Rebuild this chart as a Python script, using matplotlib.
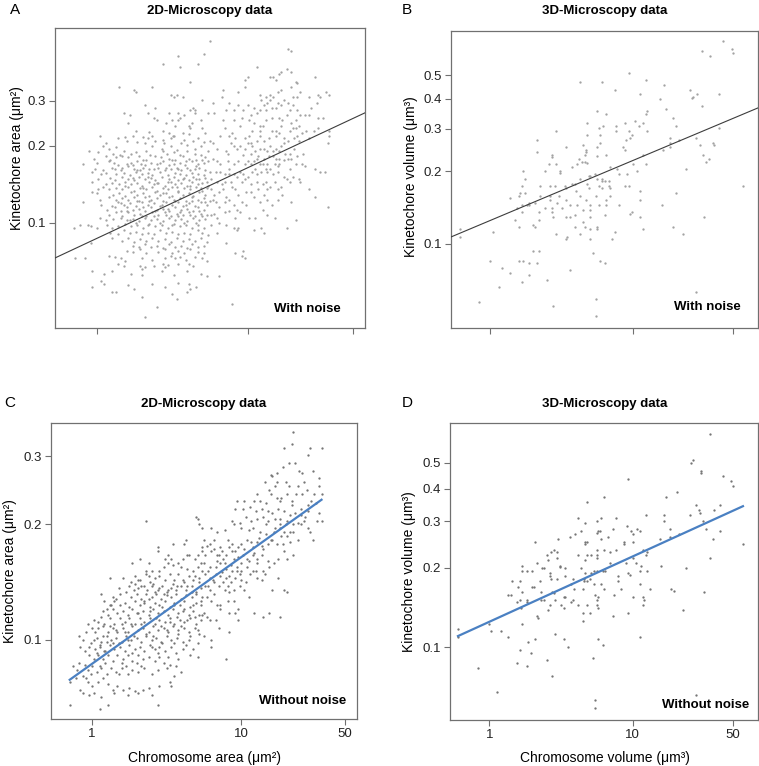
import numpy as np
import matplotlib.pyplot as plt
from matplotlib.ticker import NullLocator

plt.rcParams['font.family'] = ['Liberation Sans', 'DejaVu Sans']

# values, stored as log10: (chromosome size, kinetochore size)
log_pts_a = [
 (.75,-.29),(.71,-.34),(.54,-.35),(.44,-.38),(.67,-.38),(.55,-.39),(.62,-.45),(.15,-.47),(.37,-.47),(.25,-.48),(.26,-.49),(.49,-.50),(.53,-.50),(.51,-.51),(.57,-.51),(.70,-.52),(.32,-.54),(.39,-.55),(.64,-.55),(.65,-.56),(.62,-.56),(.18,-.57),(.48,-.57),(.54,-.57),(.58,-.58),(.55,-.59),(.65,-.57),(.74,-.57),(.22,-.58),(.34,-.57),(.38,-.59),(.40,-.60),(.46,-.61),(.50,-.60),(.54,-.60),(.63,-.61),(.69,-.60),(.21,-.61),(.52,-.62),(.62,-.63),(.61,-.62),(.70,-.63),
 (.26,-.64),(.35,-.645),(.44,-.64),(.48,-.65),(.505,-.66),(.57,-.65),(.61,-.655),(.72,-.65),
 (.02,-.66),(.14,-.67),(.19,-.665),(.24,-.66),(.31,-.665),(.34,-.67),(.37,-.66),(.44,-.675),(.49,-.67),(.51,-.66),(.58,-.675),(.67,-.67),
 (.06,-.69),(.20,-.68),(.27,-.685),(.32,-.69),(.39,-.68),(.445,-.69),(.56,-.69),(.60,-.695),(.64,-.68),(.71,-.685),(.75,-.68),
 (.04,-.70),(.08,-.71),(.13,-.705),(.37,-.70),(.43,-.71),(.49,-.70),(.53,-.715),(.65,-.71),(.69,-.70),
 (-.05,-.72),(.01,-.725),(.11,-.73),(.155,-.735),(.18,-.72),(.23,-.73),(.26,-.725),(.33,-.72),(.355,-.735),(.44,-.72),(.465,-.73),(.51,-.725),(.55,-.735),(.60,-.72),(.65,-.73),(.69,-.735),(.74,-.72),
 (-.02,-.75),(.06,-.74),(.09,-.755),(.13,-.745),(.165,-.74),(.21,-.745),(.28,-.74),(.31,-.755),(.39,-.74),(.425,-.745),(.48,-.75),(.52,-.755),(.57,-.74),(.61,-.75),(.66,-.755),(.72,-.745),
 (-.09,-.77),(.00,-.765),(.08,-.76),(.115,-.765),(.14,-.775),(.20,-.77),(.24,-.775),(.27,-.76),(.295,-.77),(.32,-.775),(.36,-.765),(.40,-.77),(.44,-.76),(.48,-.775),(.51,-.77),(.55,-.765),(.585,-.775),(.63,-.76),(.67,-.77),(.71,-.765),(.74,-.76),
 (-.01,-.79),(.04,-.795),(.10,-.785),(.12,-.79),(.16,-.795),(.21,-.78),(.25,-.79),(.29,-.795),(.31,-.785),(.35,-.79),(.41,-.785),(.45,-.795),(.49,-.79),(.53,-.785),(.56,-.795),(.60,-.785),(.65,-.79),(.68,-.785),(.72,-.795),
 (-.03,-.80),(.03,-.81),(.06,-.805),(.13,-.81),(.18,-.805),(.22,-.815),(.26,-.80),(.30,-.81),(.34,-.805),(.37,-.815),(.42,-.80),(.47,-.815),(.52,-.805),(.55,-.81),(.59,-.815),(.63,-.805),(.67,-.81),(.71,-.815),(.75,-.80),
 (.01,-.83),(.09,-.825),(.12,-.835),(.17,-.82),(.21,-.83),(.25,-.835),(.28,-.82),(.32,-.83),(.36,-.825),(.39,-.835),(.43,-.82),(.48,-.83),(.51,-.82),(.54,-.835),(.58,-.825),(.61,-.835),(.64,-.82),(.68,-.83),(.72,-.825),
 (-.03,-.84),(.06,-.85),(.10,-.845),(.15,-.85),(.19,-.84),(.23,-.85),(.27,-.845),(.30,-.855),(.35,-.84),(.38,-.85),(.41,-.845),(.45,-.855),(.49,-.84),(.52,-.85),(.56,-.845),(.60,-.855),(.63,-.84),(.67,-.85),(.70,-.845),(.74,-.855),
 (-.03,-.88),(.01,-.87),(.04,-.86),(.08,-.87),(.13,-.865),(.17,-.87),(.21,-.86),(.25,-.875),(.29,-.865),(.33,-.87),(.37,-.86),(.40,-.875),(.44,-.865),(.47,-.87),(.50,-.86),(.54,-.875),(.58,-.865),(.62,-.87),(.66,-.86),(.70,-.875),(.73,-.865),
 (.00,-.885),(.11,-.89),(.15,-.885),(.19,-.895),(.23,-.88),(.27,-.89),(.31,-.885),(.35,-.895),(.39,-.88),(.42,-.89),(.46,-.885),(.50,-.895),(.54,-.88),(.57,-.89),(.61,-.885),(.64,-.895),(.68,-.88),(.72,-.89),
 (-.09,-.92),(.02,-.91),(.08,-.90),(.13,-.91),(.17,-.905),(.21,-.91),(.25,-.90),(.28,-.915),(.32,-.90),(.36,-.91),(.40,-.905),(.44,-.915),(.48,-.90),(.51,-.91),(.55,-.905),(.59,-.915),(.63,-.90),(.67,-.91),(.71,-.905),(.75,-.915),
 (.03,-.93),(.10,-.935),(.14,-.92),(.18,-.93),(.22,-.925),(.26,-.935),(.30,-.92),(.34,-.93),(.38,-.925),(.42,-.935),(.46,-.92),(.50,-.93),(.54,-.92),(.57,-.935),(.61,-.925),(.65,-.935),(.69,-.92),(.73,-.93),
 (.07,-.95),(.12,-.94),(.16,-.955),(.20,-.94),(.24,-.95),(.28,-.945),(.32,-.955),(.36,-.94),(.40,-.95),(.44,-.945),(.48,-.955),(.52,-.94),(.56,-.95),(.60,-.945),(.64,-.955),(.67,-.94),(.71,-.95),
 (.08,-.97),(.13,-.96),(.17,-.975),(.21,-.96),(.25,-.97),(.29,-.965),(.33,-.975),(.37,-.96),(.41,-.97),(.45,-.96),(.49,-.975),(.53,-.965),(.57,-.97),(.61,-.96),(.65,-.975),(.69,-.965),(.73,-.97),
 (.02,-.98),(.06,-.99),(.11,-.985),(.16,-.98),(.20,-.99),(.24,-.985),(.28,-.995),(.32,-.98),(.36,-.99),(.40,-.985),(.44,-.995),(.48,-.98),(.52,-.99),(.56,-.985),(.60,-.995),(.64,-.98),(.68,-.99),(.72,-.985),
 (-.15,-1.02),(-.11,-1.01),(-.06,-1.01),(-.04,-1.015),(.00,-1.02),(.07,-1.01),(.10,-1.02),(.14,-1.015),(.19,-1.005),(.23,-1.015),(.27,-1.01),(.31,-1.02),(.35,-1.005),(.39,-1.015),(.43,-1.01),(.47,-1.02),(.51,-1.005),(.55,-1.015),(.59,-1.01),(.63,-1.02),(.67,-1.01),(.71,-1.02),
 (.09,-1.04),(.14,-1.045),(.18,-1.03),(.22,-1.04),(.26,-1.035),(.30,-1.045),(.34,-1.04),(.38,-1.045),(.42,-1.03),(.46,-1.04),(.50,-1.035),(.54,-1.045),(.58,-1.04),(.62,-1.045),(.67,-1.03),(.70,-1.04),(.74,-1.05),
 (.10,-1.06),(.17,-1.07),(.21,-1.06),(.25,-1.075),(.29,-1.065),(.33,-1.07),(.37,-1.06),(.41,-1.07),(.45,-1.065),(.49,-1.075),(.53,-1.06),(.57,-1.07),(.61,-1.065),(.65,-1.07),(.69,-1.06),(.73,-1.075),
 (-.04,-1.08),(.24,-1.09),(.28,-1.095),(.32,-1.085),(.36,-1.095),(.40,-1.09),(.44,-1.10),(.48,-1.085),(.52,-1.095),(.56,-1.09),(.60,-1.10),(.63,-1.085),(.67,-1.095),(.71,-1.09),
 (.20,-1.11),(.24,-1.115),(.29,-1.105),(.33,-1.12),(.41,-1.115),(.45,-1.105),(.50,-1.12),(.54,-1.11),(.58,-1.12),(.62,-1.105),(.67,-1.115),(.71,-1.12),
 (-.14,-1.14),(-.08,-1.14),(.08,-1.13),(.12,-1.135),(.16,-1.14),(.19,-1.15),(.30,-1.14),(.37,-1.145),(.45,-1.14),(.49,-1.13),(.52,-1.14),(.55,-1.135),(.59,-1.145),(.65,-1.135),(.70,-1.14),(.73,-1.15),
 (.14,-1.16),(.18,-1.17),(.29,-1.17),(.30,-1.18),(.32,-1.175),(.38,-1.17),(.44,-1.16),(.45,-1.175),(.47,-1.165),(.54,-1.16),(.61,-1.16),(.64,-1.17),
 (-.03,-1.19),(.05,-1.20),(.10,-1.19),(.23,-1.20),(.30,-1.205),(.43,-1.19),(.51,-1.205),(.60,-1.19),(.69,-1.20),(.73,-1.21),
 (.03,-1.23),(-.03,-1.25),(.05,-1.24),(.21,-1.245),(.25,-1.26),(.37,-1.24),(.45,-1.25),(.54,-1.235),(.61,-1.24),(.66,-1.25),
 (.10,-1.27),(.13,-1.27),(.30,-1.29),(.50,-1.28),(.60,-1.27),(.62,-1.26),(.53,-1.30),(.40,-1.33),(.32,-1.37),
 (.17,-.785),(.23,-.765),(.27,-.795),(.33,-.755),(.38,-.79),(.42,-.765),(.46,-.785),(.50,-.755),(.54,-.79),(.59,-.76),(.62,-.795),(.66,-.78),(.70,-.755),
 (.19,-.855),(.24,-.825),(.31,-.865),(.34,-.82),(.40,-.845),(.44,-.885),(.47,-.84),(.53,-.86),(.57,-.83),(.62,-.855),(.66,-.83),(.69,-.865),(.73,-.84),
 (.16,-.925),(.20,-.955),(.27,-.915),(.31,-.94),(.35,-.915),(.39,-.955),(.43,-.93),(.47,-.945),(.52,-.915),(.55,-.96),(.59,-.93),(.63,-.915),(.68,-.955),(.72,-.92),
 (.22,-.99),(.26,-1.00),(.30,-.975),(.34,-1.01),(.38,-.975),(.42,-1.00),(.46,-.97),(.50,-1.01),(.54,-.975),(.58,-1.00),(.62,-.97),(.66,-1.00),(.70,-.975),
 (1.27,-.32),(1.29,-.33),(1.06,-.39),(1.00,-.43),(.98,-.44),(1.17,-.43),(1.19,-.44),(1.21,-.42),(1.22,-.41),(1.15,-.43),(1.26,-.40),(1.29,-.41),(1.32,-.45),(1.33,-.455),(1.29,-.47),(1.22,-.48),(1.45,-.43),
 (.84,-.48),(.94,-.49),(.98,-.47),(1.20,-.49),(1.15,-.50),(1.08,-.50),(1.12,-.51),(1.15,-.52),(1.17,-.51),(1.09,-.52),(1.13,-.53),(1.20,-.53),(1.24,-.52),(1.27,-.53),(1.30,-.51),(1.33,-.51),(1.35,-.49),(1.41,-.51),(1.47,-.50),(1.52,-.49),(1.54,-.50),(1.48,-.51),
 (.77,-.53),(.83,-.51),(.88,-.53),(.94,-.54),(1.00,-.54),(1.04,-.55),(1.06,-.57),(1.02,-.58),(.97,-.56),(.91,-.56),(.86,-.56),(.78,-.57),(1.08,-.56),(1.11,-.54),(1.12,-.56),(1.16,-.55),(1.19,-.55),(1.22,-.54),(1.28,-.56),(1.30,-.54),(1.33,-.56),(1.35,-.58),(1.38,-.58),(1.42,-.55),(1.46,-.53),(1.47,-.59),(1.50,-.59),(1.41,-.58),(1.32,-.60),
 (.84,-.60),(.91,-.60),(.96,-.59),(1.01,-.60),(1.04,-.61),(1.08,-.62),(1.12,-.60),(1.16,-.59),(1.21,-.59),(1.26,-.58),(1.22,-.62),(1.29,-.61),(1.34,-.62),(1.39,-.64),(1.44,-.64),(1.47,-.63),(1.54,-.64),(1.08,-.64),(1.19,-.64),(1.28,-.64),(1.32,-.63),
 (.82,-.66),(.88,-.66),(.92,-.67),(.98,-.67),(1.01,-.66),(1.00,-.69),(1.02,-.69),(1.06,-.68),(1.08,-.66),(1.11,-.68),(1.14,-.67),(1.19,-.66),(1.21,-.65),(1.24,-.67),(1.24,-.69),(1.27,-.68),(1.31,-.67),(1.33,-.66),(1.36,-.65),(1.34,-.68),(1.41,-.67),(1.53,-.69),(1.54,-.66),
 (.77,-.69),(.80,-.71),(.86,-.72),(.89,-.69),(.91,-.70),(.95,-.70),(.98,-.71),(1.02,-.73),(1.05,-.72),(1.08,-.71),(1.11,-.71),(1.13,-.72),(1.14,-.74),(1.17,-.72),(1.19,-.71),(1.22,-.70),(1.25,-.73),(1.28,-.73),(1.29,-.75),(1.31,-.71),(1.37,-.73),(1.17,-.74),(1.19,-.75),(1.21,-.75),(1.24,-.755),(1.27,-.75),(1.11,-.75),(1.07,-.74),
 (.77,-.75),(.82,-.77),(.87,-.76),(.91,-.77),(.94,-.76),(.98,-.77),(1.00,-.76),(1.02,-.77),(1.04,-.76),(1.08,-.77),(1.10,-.77),(1.13,-.77),(1.18,-.77),(1.21,-.77),(1.28,-.79),(1.32,-.77),(1.36,-.77),(1.38,-.78),(1.45,-.79),(1.48,-.80),(1.51,-.80),
 (.79,-.80),(.82,-.80),(.85,-.81),(.88,-.81),(.91,-.81),(.93,-.82),(.97,-.81),(1.00,-.82),(1.03,-.80),(1.06,-.81),(1.09,-.80),(1.12,-.79),(1.15,-.79),(1.17,-.81),(1.20,-.80),(1.24,-.82),(1.26,-.83),(1.30,-.82),(1.34,-.83),
 (.76,-.83),(.80,-.84),(.83,-.85),(.85,-.84),(.89,-.84),(.90,-.86),(.96,-.84),(.98,-.83),(1.02,-.85),(1.06,-.84),(1.10,-.85),(1.12,-.84),(1.15,-.86),(1.18,-.84),(1.22,-.86),(1.28,-.84),(1.35,-.84),
 (.76,-.87),(.78,-.89),(.81,-.88),(.84,-.87),(.86,-.90),(.92,-.87),(.94,-.89),(.99,-.88),(1.02,-.88),(1.07,-.87),(1.11,-.89),(1.13,-.87),(1.20,-.87),(1.23,-.89),(1.41,-.87),
 (.77,-.91),(.79,-.92),(.81,-.94),(.85,-.92),(.88,-.91),(.91,-.93),(.93,-.95),(.96,-.92),(.99,-.93),(1.04,-.90),(1.08,-.92),(1.13,-.91),(1.16,-.93),(1.20,-.91),(1.29,-.92),(1.45,-.90),(1.53,-.94),
 (.76,-.97),(.78,-.965),(.80,-.98),(.85,-.96),(.88,-.955),(.92,-.98),(.95,-.96),(1.01,-.98),(1.05,-.98),(1.10,-.95),(1.13,-.97),(1.18,-.98),(1.32,-.99),
 (.76,-1.01),(.81,-1.00),(.86,-1.01),(.91,-1.02),(.93,-1.03),(.94,-1.02),(1.04,-1.03),(1.09,-1.02),(1.11,-1.04),(1.26,-1.02),
 (.80,-1.04),(.86,-1.08),(.92,-1.12),(.96,-1.13),(.97,-1.11),(.98,-1.14),(.81,-1.21),(.90,-1.32),
 (.85,-.63),(.90,-.65),(.95,-.62),(1.03,-.64),(1.10,-.62),(1.16,-.64),(1.23,-.60),(1.30,-.63),(.87,-.73),(.93,-.71),(.97,-.735),(1.03,-.70),(1.06,-.75),(1.15,-.70),(1.21,-.72),(1.33,-.74),
 (.80,-.76),(.88,-.79),(.95,-.80),(1.05,-.79),(1.13,-.80),(1.20,-.78),
]

log_pts_b = [
 (1.63,-.16),(1.69,-.19),(1.70,-.21),(1.48,-.20),(1.54,-.22),(.97,-.29),(1.09,-.32),(.63,-.33),(.78,-.33),(1.22,-.34),(.87,-.36),(1.40,-.36),(1.60,-.38),(1.05,-.38),(1.45,-.38),(1.42,-.39),(1.41,-.395),(1.19,-.40),(1.48,-.43),(1.23,-.44),
 (.75,-.45),(.81,-.46),(1.10,-.45),(1.09,-.46),(1.28,-.48),(.68,-.50),(.94,-.50),(1.01,-.49),(1.04,-.51),(1.07,-.50),(.88,-.51),(.79,-.51),(.76,-.52),(1.30,-.51),(1.60,-.52),(1.10,-.53),(.46,-.53),(.88,-.53),(.97,-.53),
 (.68,-.55),(.77,-.55),(.99,-.55),(.98,-.56),(1.26,-.56),(1.26,-.58),(.95,-.57),(.33,-.57),(1.32,-.57),(1.44,-.56),(1.56,-.58),(1.57,-.59),(1.47,-.59),(.77,-.58),(.65,-.59),(.53,-.60),(.93,-.60),(.94,-.61),(.75,-.60),(.67,-.61),(.67,-.62),(.33,-.62),
 (.66,-.63),(.81,-.63),(.75,-.635),(.43,-.63),(.43,-.64),(.62,-.65),(.66,-.66),(.61,-.67),(.64,-.66),(.68,-.665),(.46,-.67),(.41,-.67),(1.07,-.63),(1.21,-.61),(1.26,-.60),(1.49,-.63),(1.51,-.66),(1.53,-.65),
 (.57,-.68),(.84,-.68),(.89,-.69),(.38,-.70),(.49,-.70),(.49,-.705),(1.09,-.67),(1.00,-.67),(1.37,-.69),(.23,-.70),(.73,-.71),(.70,-.72),(.90,-.71),(.96,-.71),(1.03,-.70),
 (.24,-.73),(.75,-.73),(.78,-.73),(.69,-.72),(.63,-.73),(.57,-.75),(.59,-.75),(.52,-.76),(.45,-.76),(.42,-.76),(.35,-.76),(.68,-.75),(.78,-.74),(.80,-.74),(.83,-.74),(.76,-.76),(.78,-.77),(.83,-.76),(.69,-.77),(.94,-.76),(.97,-.76),(1.05,-.78),
 (.22,-.76),(.21,-.79),(.24,-.79),(.20,-.80),(.14,-.81),(.27,-.83),(.27,-.84),(.22,-.84),(.22,-.87),(.19,-.85),(.31,-.83),(.35,-.80),(.42,-.80),(.48,-.80),(.53,-.77),(.60,-.78),(.63,-.80),(.67,-.82),(.74,-.80),(.81,-.82),(.84,-.80),(.84,-.77),
 (.26,-.84),(.38,-.85),(.34,-.87),(.42,-.82),(.43,-.85),(.43,-.87),(.47,-.83),(.50,-.85),(.53,-.82),(.56,-.84),(.61,-.84),(.65,-.86),(.70,-.84),(.76,-.84),(.81,-.84),(.90,-.84),(.99,-.87),(.98,-.875),(1.05,-.82),(1.20,-.84),(1.30,-.79),(1.50,-.89),(1.77,-.76),
 (.17,-.90),(.20,-.93),(.30,-.92),(.31,-.93),(.34,-.90),(.44,-.89),(.53,-.89),(.56,-.89),(.59,-.88),(.65,-.91),(.66,-.93),(.59,-.93),(.70,-.89),(.70,-.86),(.80,-.88),(.75,-.93),(.75,-.94),(.70,-.94),
 (.46,-.96),(.54,-.97),(.53,-.98),(.63,-.96),(.70,-.98),(.87,-.95),(.85,-.98),(1.05,-.89),(1.07,-.94),(1.28,-.93),(1.35,-.96),(.02,-.95),(-.21,-.94),(-.21,-.97),
 (.30,-1.03),(.34,-1.03),(.00,-1.07),(.20,-1.07),(.23,-1.07),(.27,-1.08),(.33,-1.08),(.08,-1.10),(.14,-1.12),(.27,-1.13),(.22,-1.16),(.40,-1.15),(.56,-1.11),(.72,-1.04),(.77,-1.07),(.80,-1.08),
 (.06,-1.18),(-.08,-1.24),(.44,-1.26),(.74,-1.23),(.74,-1.30),(1.44,-1.20),
]

log_pts_c = [
 (.36,-.69),(.70,-.68),(.71,-.685),(.72,-.70),(.74,-.71),(.63,-.74),(.62,-.75),(.54,-.75),(.74,-.76),(.74,-.77),(.44,-.76),(.44,-.77),(.51,-.78),(.53,-.79),(.49,-.79),(.61,-.79),(.64,-.78),(.65,-.78),(.71,-.78),(.69,-.79),(.73,-.80),
 (.27,-.80),(.32,-.79),(.38,-.80),(.36,-.82),(.40,-.82),(.45,-.82),(.48,-.81),(.51,-.80),(.54,-.805),(.58,-.80),(.60,-.81),(.64,-.815),(.68,-.82),(.71,-.81),(.74,-.82),
 (.21,-.84),(.12,-.84),(.29,-.835),(.31,-.845),(.36,-.83),(.39,-.85),(.42,-.84),(.45,-.835),(.49,-.845),(.52,-.83),(.55,-.845),(.58,-.83),(.62,-.85),(.65,-.835),(.68,-.845),(.72,-.84),
 (.25,-.86),(.28,-.87),(.31,-.865),(.33,-.86),(.37,-.87),(.40,-.86),(.44,-.87),(.47,-.86),(.50,-.875),(.53,-.865),(.56,-.87),(.60,-.86),(.63,-.87),(.67,-.86),(.70,-.875),(.73,-.865),
 (.06,-.88),(.14,-.89),(.19,-.88),(.23,-.875),(.26,-.89),(.30,-.88),(.33,-.895),(.36,-.88),(.40,-.89),(.43,-.88),(.46,-.895),(.50,-.885),(.53,-.89),(.56,-.88),(.60,-.895),(.63,-.885),(.67,-.89),(.70,-.88),(.74,-.89),
 (.08,-.90),(.12,-.91),(.15,-.90),(.19,-.91),(.22,-.905),(.25,-.915),(.29,-.90),(.32,-.91),(.35,-.90),(.39,-.915),(.42,-.905),(.45,-.91),(.49,-.90),(.52,-.915),(.55,-.905),(.59,-.91),(.62,-.90),(.66,-.915),(.70,-.905),(.73,-.91),
 (.07,-.925),(.11,-.935),(.14,-.92),(.17,-.93),(.21,-.925),(.24,-.935),(.27,-.92),(.31,-.93),(.34,-.925),(.38,-.935),(.41,-.92),(.44,-.93),(.48,-.925),(.51,-.935),(.54,-.92),(.58,-.93),(.61,-.925),(.65,-.935),(.68,-.925),(.72,-.935),
 (-.09,-.99),(-.04,-.98),(.00,-.97),(.02,-.98),(-.03,-.96),(.01,-.95),(.04,-.955),(.06,-.94),(.08,-.96),(.12,-.945),(.15,-.96),(.19,-.945),(.22,-.955),(.25,-.945),(.29,-.96),(.32,-.945),(.35,-.955),(.39,-.945),(.42,-.96),(.45,-.95),(.49,-.955),(.52,-.945),(.55,-.96),(.59,-.95),(.62,-.955),(.66,-.945),(.70,-.96),(.73,-.95),
 (.04,-.97),(.07,-.965),(.11,-.98),(.14,-.97),(.17,-.98),(.21,-.97),(.24,-.98),(.27,-.965),(.31,-.975),(.34,-.97),(.38,-.98),(.41,-.965),(.44,-.975),(.48,-.97),(.51,-.98),(.54,-.965),(.58,-.975),(.62,-.97),(.65,-.98),(.69,-.97),(.72,-.985),
 (-.06,-1.00),(-.01,-1.01),(.03,-.995),(.06,-1.005),(.10,-.99),(.13,-1.00),(.16,-.995),(.20,-1.005),(.23,-.99),(.26,-1.00),(.30,-.995),(.33,-1.005),(.36,-.99),(.40,-1.00),(.43,-.995),(.46,-1.005),(.50,-.99),(.53,-1.00),(.57,-.995),(.61,-1.005),(.65,-1.00),(.71,-1.01),
 (-.08,-1.02),(-.05,-1.03),(-.02,-1.02),(.02,-1.025),(.05,-1.02),(.08,-1.03),(.12,-1.015),(.15,-1.025),(.19,-1.02),(.22,-1.03),(.25,-1.015),(.29,-1.025),(.32,-1.02),(.35,-1.03),(.39,-1.015),(.42,-1.025),(.45,-1.02),(.49,-1.03),(.53,-1.02),(.56,-1.035),(.61,-1.025),(.66,-1.04),(.71,-1.045),
 (-.09,-1.06),(-.05,-1.065),(-.02,-1.04),(.01,-1.05),(.04,-1.04),(.07,-1.05),(.11,-1.04),(.14,-1.055),(.17,-1.04),(.21,-1.05),(.24,-1.04),(.27,-1.055),(.31,-1.04),(.34,-1.05),(.38,-1.045),(.42,-1.055),(.45,-1.045),(.48,-1.06),(.52,-1.065),(.56,-1.07),(.60,-1.085),
 (-.13,-1.07),(-.10,-1.08),(-.03,-1.08),(.00,-1.07),(.03,-1.085),(.06,-1.075),(.10,-1.09),(.13,-1.075),(.16,-1.085),(.20,-1.075),(.24,-1.09),(.27,-1.08),(.31,-1.085),(.35,-1.075),(.40,-1.09),(.44,-1.08),(.50,-1.075),(.55,-1.095),
 (-.15,-1.11),(-.11,-1.10),(-.04,-1.10),(-.03,-1.11),(.00,-1.12),(.04,-1.11),(.07,-1.10),(.11,-1.115),(.14,-1.13),(.17,-1.12),(.21,-1.13),(.25,-1.125),(.29,-1.135),(.34,-1.13),(.38,-1.125),(.45,-1.12),(.52,-1.11),(.53,-1.12),
 (-.08,-1.13),(-.06,-1.14),(-.02,-1.145),(.01,-1.14),(.06,-1.15),(.15,-1.14),(.24,-1.145),(.31,-1.14),(.40,-1.145),(.44,-1.17),(-.15,-1.17),(.05,-1.18),(.11,-1.17),
 (.30,-.93),(.33,-.96),(.36,-.985),(.39,-.925),(.41,-.99),(.43,-.945),(.46,-.965),(.47,-.915),(.50,-.975),(.52,-.955),(.55,-.91),(.57,-.94),(.58,-.985),(.60,-.965),(.62,-.92),(.64,-.95),(.66,-.99),(.68,-.91),(.69,-.94),(.71,-.975),(.73,-.90),(.74,-.935),
 (.20,-.96),(.22,-.98),(.24,-1.00),(.26,-.96),(.28,-.99),(.18,-1.01),(.16,-.975),(.14,-1.01),(.12,-.965),(.10,-1.005),(.09,-1.03),(.07,-.99),(.05,-1.015),(.03,-1.035),(.01,-1.00),
 (.35,-.905),(.38,-.895),(.42,-.875),(.45,-.865),(.48,-.88),(.51,-.87),(.54,-.855),(.57,-.86),(.61,-.845),(.64,-.86),(.67,-.875),(.69,-.835),(.72,-.85),
 (.40,-1.02),(.44,-1.035),(.47,-1.01),(.51,-1.045),(.55,-1.01),(.58,-1.05),(.63,-1.015),(.68,-1.025),(.27,-1.035),(.30,-1.06),(.33,-1.07),(.20,-1.06),(.23,-1.07),(.18,-1.09),(.09,-1.06),(.05,-1.07),(-.01,-1.09),(-.06,-1.095),
 (.26,-.85),(.29,-.855),(.32,-.845),(.35,-.86),(.38,-.835),(.41,-.855),(.18,-.865),(.16,-.895),(.10,-.92),(.13,-.91),
 (1.35,-.46),(1.29,-.50),(1.34,-.49),(1.46,-.50),(1.54,-.50),(1.45,-.52),(1.20,-.57),(1.21,-.575),(1.24,-.565),(1.32,-.54),(1.36,-.54),(1.28,-.55),(1.39,-.56),(1.41,-.565),(1.48,-.56),(1.52,-.58),(1.16,-.59),(1.24,-.59),(1.30,-.59),(1.32,-.60),(1.23,-.60),(1.19,-.61),
 (1.11,-.62),(1.13,-.64),(1.20,-.62),(1.24,-.63),(1.27,-.63),(1.31,-.62),(1.34,-.64),(1.37,-.62),(1.41,-.62),(1.44,-.61),(1.49,-.62),(1.52,-.60),(1.54,-.62),(.97,-.64),(1.02,-.64),(1.09,-.64),(1.17,-.645),(1.26,-.64),(1.34,-.65),(1.40,-.66),(1.45,-.65),(1.52,-.67),(1.54,-.69),(1.51,-.69),
 (.96,-.66),(1.01,-.66),(1.06,-.655),(1.10,-.665),(1.14,-.66),(1.18,-.665),(1.21,-.67),(1.25,-.66),(1.29,-.665),(1.33,-.675),(1.36,-.67),(1.40,-.675),(1.45,-.665),(1.42,-.69),
 (.94,-.69),(.99,-.695),(1.03,-.68),(1.07,-.69),(1.11,-.685),(1.15,-.68),(1.18,-.69),(1.23,-.685),(1.26,-.70),(1.31,-.69),(1.35,-.70),(1.38,-.695),(1.45,-.71),(1.48,-.74),(1.46,-.72),
 (.80,-.71),(.84,-.72),(.89,-.715),(.95,-.70),(1.00,-.71),(1.05,-.715),(1.08,-.71),(1.13,-.72),(1.17,-.725),(1.22,-.72),(1.26,-.71),(1.29,-.72),(1.27,-.73),(1.31,-.73),(1.33,-.745),
 (.75,-.74),(.79,-.75),(.82,-.74),(.86,-.76),(.91,-.74),(.94,-.75),(.98,-.76),(1.00,-.75),(1.04,-.74),(1.08,-.76),(1.11,-.745),(1.14,-.755),(1.18,-.75),(1.21,-.74),(1.24,-.75),(1.29,-.77),(1.35,-.78),
 (.76,-.78),(.80,-.77),(.84,-.78),(.87,-.77),(.90,-.78),(.94,-.77),(.98,-.785),(1.01,-.78),(1.04,-.79),(1.08,-.78),(1.11,-.79),(1.14,-.78),(1.18,-.795),(1.22,-.80),(1.25,-.79),(1.31,-.79),
 (.75,-.80),(.79,-.81),(.83,-.81),(.86,-.80),(.90,-.815),(.93,-.805),(.97,-.81),(1.00,-.82),(1.04,-.81),(1.08,-.82),(1.11,-.80),(1.15,-.82),(1.19,-.81),(1.25,-.84),
 (.76,-.83),(.79,-.84),(.83,-.83),(.86,-.835),(.90,-.84),(.93,-.85),(.96,-.84),(1.00,-.845),(1.03,-.85),(1.11,-.84),(1.14,-.845),(1.16,-.83),
 (.76,-.86),(.79,-.87),(.82,-.88),(.85,-.86),(.89,-.87),(.92,-.875),(.95,-.87),(.99,-.86),(1.02,-.87),(1.05,-.89),(1.21,-.87),(1.29,-.87),(1.31,-.875),
 (.77,-.89),(.80,-.90),(.84,-.91),(.86,-.92),(.91,-.90),(.95,-.90),(.98,-.92),(.96,-.93),(.92,-.93),(.86,-.91),
 (.75,-.93),(.77,-.94),(.79,-.95),(.83,-.95),(.85,-.97),(.92,-.98),(.98,-.95),(1.09,-.93),(1.15,-.94),(1.19,-.93),(1.26,-.94),
 (.75,-.99),(.80,-1.00),(.80,-1.02),(.90,-1.05),
 (.78,-.82),(.81,-.845),(.84,-.795),(.87,-.825),(.89,-.80),(.92,-.835),(.95,-.79),(.97,-.82),(1.00,-.80),(1.02,-.765),(1.05,-.795),(1.07,-.745),(1.09,-.775),(1.12,-.735),(1.15,-.765),(1.17,-.70),(1.20,-.74),(1.23,-.71),(1.26,-.685),(1.28,-.75),
 (.78,-.86),(.82,-.85),(.88,-.85),(.91,-.86),(.94,-.82),(.99,-.83),(1.06,-.83),(1.10,-.82),(.88,-.79),(.92,-.76),(.96,-.77),(.85,-.78),(.82,-.765),(.77,-.755),
 (1.35,-.72),(1.38,-.74),(1.40,-.70),(1.43,-.68),(1.47,-.64),(1.50,-.645),(1.38,-.60),(1.42,-.59),(1.30,-.70),(1.33,-.72),
]

log_pts_d = [
 (1.54,-.19),(1.42,-.29),(1.41,-.30),(1.48,-.33),(1.48,-.34),(1.63,-.35),(1.69,-.37),(1.70,-.39),(.97,-.36),(.68,-.45),(.80,-.43),(1.31,-.41),(1.23,-.43),(1.44,-.46),(1.46,-.48),(1.47,-.49),(1.40,-.50),(1.61,-.46),(1.57,-.48),(1.09,-.50),
 (.62,-.51),(.78,-.51),(.88,-.51),(1.22,-.50),(1.22,-.52),(1.49,-.52),(1.51,-.55),(1.61,-.56),(1.77,-.61),(1.56,-.59),(1.54,-.66),(.67,-.53),(.64,-.56),(.60,-.57),(.75,-.52),(.76,-.56),(.77,-.56),(.75,-.565),
 (.86,-.55),(.96,-.54),(.99,-.56),(1.00,-.57),(1.05,-.56),(1.03,-.55),(1.26,-.55),(1.32,-.57),(1.26,-.58),(1.19,-.59),(1.10,-.64),(1.09,-.65),(1.07,-.63),
 (.56,-.58),(.48,-.59),(.32,-.60),(.67,-.60),(.67,-.61),(.68,-.60),(.78,-.59),(.83,-.58),(.80,-.63),(.75,-.63),(.75,-.66),(.75,-.65),(.71,-.65),(.68,-.65),(.67,-.67),(.62,-.65),(.64,-.70),
 (.88,-.63),(.84,-.64),(.94,-.60),(.94,-.61),(1.00,-.60),(1.00,-.66),(.95,-.68),(1.02,-.68),(1.06,-.69),(1.05,-.71),(1.10,-.71),(1.20,-.69),(1.37,-.70),(.84,-.68),
 (.43,-.64),(.45,-.63),(.47,-.64),(.47,-.66),(.40,-.65),(.41,-.67),(.37,-.70),(.38,-.70),(.30,-.71),(.26,-.71),(.23,-.69),(.23,-.71),(.33,-.68),(.49,-.69),(.49,-.695),(.53,-.70),
 (.42,-.72),(.42,-.73),(.43,-.74),(.47,-.74),(.35,-.75),(.30,-.77),(.31,-.77),(.21,-.75),(.20,-.77),(.16,-.75),(.15,-.80),(.13,-.80),(.19,-.83),(.21,-.82),(.22,-.85),(.23,-.79),(.26,-.82),(.26,-.83),
 (.36,-.79),(.36,-.82),(.38,-.82),(.44,-.79),(.45,-.795),(.53,-.73),(.58,-.74),(.57,-.76),(.53,-.81),(.52,-.81),(.59,-.78),(.58,-.82),(.57,-.83),(.67,-.72),(.66,-.74),(.66,-.75),
 (.71,-.72),(.73,-.71),(.75,-.71),(.79,-.71),(.81,-.71),(.78,-.76),(.80,-.78),(.73,-.76),(.70,-.74),(.65,-.78),(.68,-.75),(.74,-.80),(.76,-.81),(.75,-.82),(.76,-.85),(.75,-.84),
 (.62,-.84),(.68,-.84),(.65,-.87),(.70,-.87),(.65,-.90),(.50,-.84),(.52,-.85),(.46,-.82),(.42,-.84),(.41,-.86),(.86,-.88),(.87,-.80),(.92,-.78),(.90,-.73),(.90,-.75),(.97,-.72),(.98,-.725),
 (1.00,-.81),(1.05,-.76),(1.07,-.81),(1.08,-.82),(1.07,-.84),(.97,-.87),(1.05,-.96),(1.12,-.78),(1.27,-.78),(1.29,-.785),(1.35,-.86),(1.50,-.79),
 (.33,-.88),(.34,-.89),(.23,-.91),(.00,-.91),(.01,-.94),(.08,-.94),(.13,-.96),(.27,-.98),(.32,-.97),(.21,-1.01),(.29,-1.02),(.19,-1.06),(.26,-1.07),(.46,-.95),(.52,-.97),(.55,-1.00),
 (.40,-1.05),(.44,-1.11),(.76,-.97),(.79,-.99),(.72,-1.04),(-.08,-1.08),(.05,-1.17),(-.22,-.93),(-.22,-.96),(.74,-1.20),(.74,-1.23),(1.44,-1.18),
]

# log-log regression lines: log10(kinetochore) = intercept + slope * log10(chromosome)
fit_a = (-1.062, 0.2765)
fit_b = (-0.903, 0.249)
fit_c = (-1.063, 0.2775)
fit_d = (-0.903, 0.2475)

x_ticks = [1, 10, 50]
y_ticks_2d = [0.1, 0.2, 0.3]
y_ticks_3d = [0.1, 0.2, 0.3, 0.4, 0.5]

W, H = 759, 766
fig = plt.figure(figsize=(W / 100, H / 100), dpi=100)


def fpos(x, y):
    return x / W, 1 - y / H


def make_axes(rect_px, xlim, ylim, yticks, xlabels):
    l, t, r, b = rect_px
    ax = fig.add_axes([l / W, 1 - b / H, (r - l) / W, (b - t) / H])
    ax.set_xscale('log')
    ax.set_yscale('log')
    ax.set_xlim(xlim)
    ax.set_ylim(ylim)
    ax.set_xticks(x_ticks)
    ax.set_yticks(yticks)
    ax.xaxis.set_minor_locator(NullLocator())
    ax.yaxis.set_minor_locator(NullLocator())
    ax.set_xticklabels([str(t) for t in x_ticks] if xlabels else [])
    ax.set_yticklabels([f'{t:g}' for t in yticks])
    for s in ax.spines.values():
        s.set_color('#707070')
        s.set_linewidth(0.9)
    ax.tick_params(length=4.5, width=0.8, color='#707070', labelsize=9.5,
                   labelcolor='#222222', pad=2)
    return ax


ax_a = make_axes((55, 27.7, 365, 328.3), (0.53, 60), (0.0386, 0.579), y_ticks_2d, False)
ax_b = make_axes((451, 30.7, 758, 328.3), (0.53, 75), (0.0446, 0.766), y_ticks_3d, False)
ax_c = make_axes((51, 423.3, 357, 719.3), (0.53, 60), (0.062, 0.366), y_ticks_2d, True)
ax_d = make_axes((450, 423.3, 758, 720), (0.53, 75), (0.053, 0.707), y_ticks_3d, True)

noisy_grey = '#a3a3a3'
clean_grey = '#767676'
blue = '#4a80c2'

for ax, pts, fit in [(ax_a, log_pts_a, fit_a), (ax_b, log_pts_b, fit_b)]:
    lx, ly = np.array(pts).T
    ax.scatter(10 ** lx, 10 ** ly, s=2.8, color=noisy_grey, linewidths=0, zorder=2)
    a, b = fit
    ax.axline((1, 10 ** a), (10, 10 ** (a + b)), color='#3c3c3c', lw=0.8, zorder=3)

for ax, pts, fit in [(ax_c, log_pts_c, fit_c), (ax_d, log_pts_d, fit_d)]:
    lx, ly = np.array(pts).T
    ax.scatter(10 ** lx, 10 ** ly, s=2.8, color=clean_grey, linewidths=0, zorder=2)
    a, b = fit
    xs = np.array([lx.min(), lx.max()])
    ax.plot(10 ** xs, 10 ** (a + b * xs), color=blue, lw=1.6, zorder=3)

# panel letters
for lab, (x, y) in zip('ABCD', [(15, 10), (407, 10), (9.5, 403), (407, 403)]):
    fig.text(*fpos(x, y), lab, fontsize=11, ha='center', va='center')

# titles
for txt, (x, y) in [('2D-Microscopy data', (210, 11)), ('3D-Microscopy data', (604.5, 11)),
                    ('2D-Microscopy data', (204, 404)), ('3D-Microscopy data', (604.5, 404))]:
    fig.text(*fpos(x, y), txt, fontsize=9.5, fontweight='bold', ha='center', va='center')

# y labels
for txt, (x, y) in [('Kinetochore area (μm²)', (17.5, 158)), ('Kinetochore volume (μm³)', (411, 177)),
                    ('Kinetochore area (μm²)', (10.5, 571)), ('Kinetochore volume (μm³)', (409, 572))]:
    fig.text(*fpos(x, y), txt, fontsize=10, rotation=90, ha='center', va='center')

# x labels
fig.text(*fpos(204, 758), 'Chromosome area (μm²)', fontsize=10, ha='center', va='center')
fig.text(*fpos(604.5, 758), 'Chromosome volume (μm³)', fontsize=10, ha='center', va='center')

# noise annotations
for txt, (x, y) in [('With noise', (340.7, 309.5)), ('With noise', (741, 307)),
                    ('Without noise', (346, 700.5)), ('Without noise', (749, 704.5))]:
    fig.text(*fpos(x, y), txt, fontsize=9.5, fontweight='bold', ha='right', va='center')

fig.savefig('out.png', dpi=100)
